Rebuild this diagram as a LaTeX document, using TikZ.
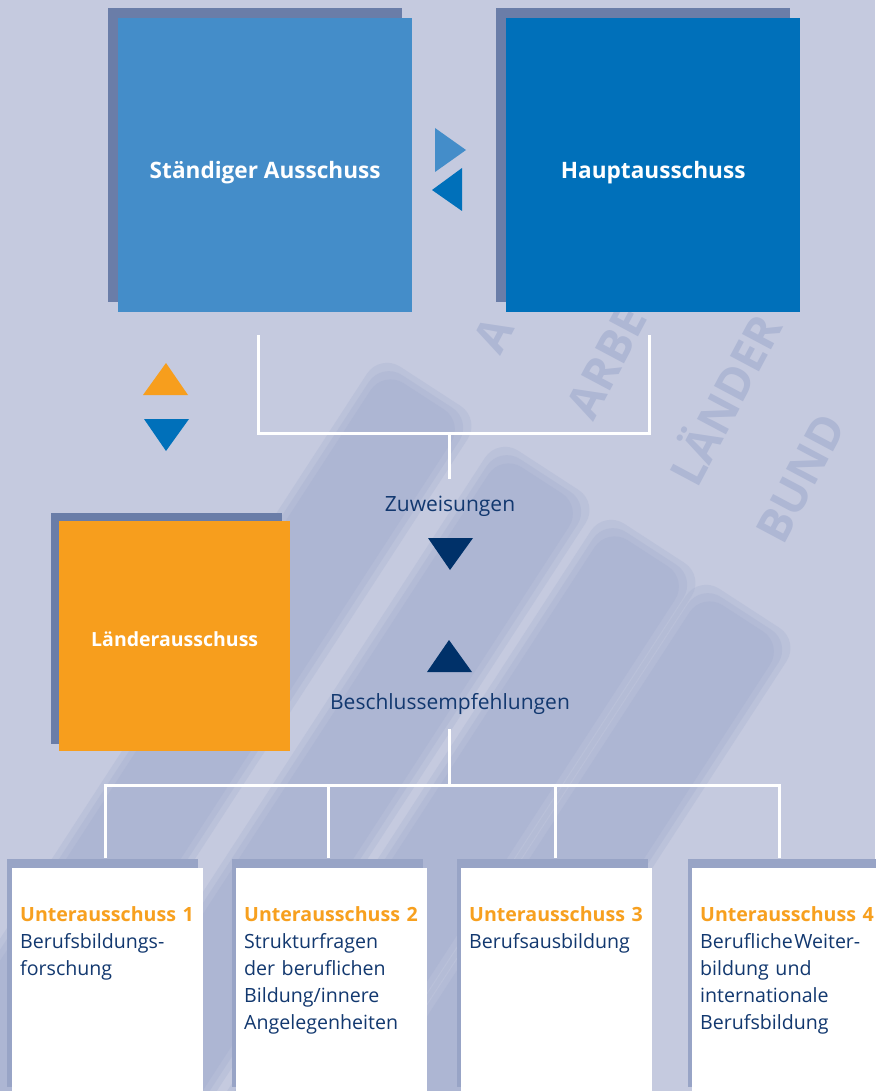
\documentclass[tikz,border=0pt]{standalone}
\usepackage{fontspec}
\setmainfont{Open Sans}
\usetikzlibrary{calc}
\definecolor{bg}{HTML}{C5CADF}
\definecolor{bar}{HTML}{A6B0D0}
\definecolor{bgtext}{HTML}{AEB7D4}
\definecolor{shTop}{HTML}{6A7DA8}
\definecolor{shBot}{HTML}{98A4C6}
\definecolor{cStand}{HTML}{448DC9}
\definecolor{cHaupt}{HTML}{0070BA}
\definecolor{cOrange}{HTML}{F79E1D}
\definecolor{cNavy}{HTML}{003169}
\definecolor{tNavy}{HTML}{12386F}
\definecolor{tOrange}{HTML}{F7A01F}
\tikzset{
  wire/.style={draw=white, line width=3pt},
  bigbox/.style={anchor=north west, inner sep=0pt, minimum width=294pt, minimum height=294pt,
     text=white, font=\bfseries\fontsize{22.6}{26}\selectfont},
  landbox/.style={anchor=north west, inner sep=0pt, minimum width=231pt, minimum height=230pt,
     text=white, font=\bfseries\fontsize{19.5}{23}\selectfont, fill=cOrange},
  subbox/.style={anchor=north west, inner sep=0pt, minimum width=191pt, minimum height=223pt, fill=white},
  subtext/.style={anchor=north west, inner sep=0pt, text width=190pt, align=left,
     text=tNavy, font=\fontsize{19.6}{27}\selectfont},
  flowlabel/.style={text=tNavy, font=\fontsize{21}{24}\selectfont, inner sep=0pt},
  bgword/.style={text=bgtext, font=\bfseries\fontsize{46}{46}\selectfont, rotate=62, anchor=base west, inner sep=0pt},
  barshape/.style={fill=bar, rounded corners=24pt}
}
\begin{document}
\begin{tikzpicture}[x=1pt,y=-1pt]
\useasboundingbox (0,0) rectangle (875,1091);
\fill[bg] (0,0) rectangle (875,1091);

% faint background picture: tilted bars
\foreach \tx/\ty in {426/393, 544/477, 650/550, 745/615}{
  \begin{scope}[shift={(\tx,\ty)}, rotate=-33]
    \path[barshape, opacity=0.3] (-60,-8) rectangle (60,1000);
    \path[barshape, opacity=0.35] (-54,-2) rectangle (54,1000);
    \path[barshape, opacity=0.45] (-48,4) rectangle (48,1000);
  \end{scope}
}
\node[bgword] (w1) at (500,357) {A};
\node[bgword] (w2) at (593,423) {ARBE};
\node[bgword] (w3) at (697,490) {LÄNDER};
\node[bgword] (w4) at (783,547) {BUND};

% top boxes
\fill[shTop] (108,8) rectangle (402,302);
\node[bigbox, fill=cStand] (stand) at (118,18) {\raisebox{-13pt}[0pt][0pt]{Ständiger Ausschuss}};
\fill[shTop] (496,8) rectangle (790,302);
\node[bigbox, fill=cHaupt] (haupt) at (506,18) {\raisebox{-13pt}[0pt][0pt]{Hauptausschuss}};

% exchange triangles
\fill[cStand] (435,128) -- (466,150) -- (435,172) -- cycle;
\fill[cHaupt] (462,168) -- (432,190) -- (462,211) -- cycle;

% Länderausschuss
\fill[shTop] (51,513) rectangle (282,744);
\node[landbox] (land) at (59,521) {\raisebox{-10pt}[0pt][0pt]{Länderausschuss}};
\fill[cOrange] (143,395) -- (166,363) -- (188,395) -- cycle;
\fill[cHaupt] (144,419) -- (189,419) -- (166,451) -- cycle;

% bracket and labels
\coordinate (bL) at (258,335);
\coordinate (bR) at (649,335);
\coordinate (bM) at (449,433);
\coordinate (bS) at (449,479);
\draw[wire] (bL) |- (bM) -| (bR);
\draw[wire] (bM) -- (bS);
\node[flowlabel] (zuw) at (450,506) {Zuweisungen};
\fill[cNavy] (428,538) -- (473,538) -- (450,570) -- cycle;
\fill[cNavy] (427,672) -- (449,640) -- (472,672) -- cycle;
\node[flowlabel] (besch) at (450,704) {Beschlussempfehlungen};

% sub committees
\fill[shBot] (7,859) rectangle (198,1087);
\node[subbox] (s1) at (12,868) {};
\fill[shBot] (232,859) rectangle (423,1087);
\node[subbox] (s2) at (236,868) {};
\fill[shBot] (457,859) rectangle (648,1087);
\node[subbox] (s3) at (461,868) {};
\fill[shBot] (688,859) rectangle (880,1087);
\node[subbox] (s4) at (692,868) {};

\node[subtext] (t1) at (20,906) {\textcolor{tOrange}{\bfseries Unterausschuss 1}\\Berufsbildungs-\\forschung};
\node[subtext] (t2) at (244,906) {\textcolor{tOrange}{\bfseries Unterausschuss 2}\\Strukturfragen\\der beruflichen\\Bildung/innere\\Angelegenheiten};
\node[subtext] (t3) at (469,906) {\textcolor{tOrange}{\bfseries Unterausschuss 3}\\Berufsausbildung};
\node[subtext] (t4) at (700,906) {\textcolor{tOrange}{\bfseries Unterausschuss 4}\\{\spaceskip=1.5pt Berufliche Weiter-}\\bildung und\\internationale\\Berufsbildung};

% tree below
\coordinate (lS) at (449,729);
\coordinate (lM) at (449,785);
\coordinate (d1) at (105,858);
\coordinate (d2) at (328,858);
\coordinate (d3) at (555,858);
\coordinate (d4) at (779,858);
\draw[wire] (lS) -- (lM);
\draw[wire] (d1) |- (lM) -| (d4);
\draw[wire] (d2) -- (d2 |- lM);
\draw[wire] (d3) -- (d3 |- lM);
\end{tikzpicture}
\end{document}
